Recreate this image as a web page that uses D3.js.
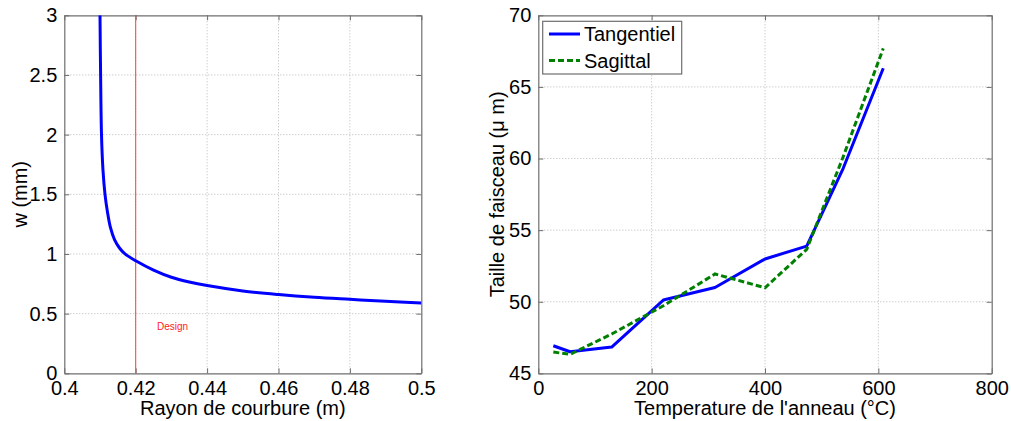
<!DOCTYPE html>
<html>
<head>
<meta charset="utf-8">
<script src="https://cdn.jsdelivr.net/npm/d3@7"></script>
<style>
html,body{margin:0;padding:0;background:#fff;}
svg{display:block;}
text{font-family:"Liberation Sans",Arial,sans-serif;fill:#000;}
</style>
</head>
<body>
<svg id="chart" width="1011" height="421"></svg>
<script>
// ---- Left panel data: beam size w (mm) vs radius of curvature (m)
const rayon = [0.41000, 0.41017, 0.41042, 0.41084, 0.41140, 0.41210, 0.41294, 0.41406, 0.41546, 0.41700, 0.4200, 0.4250, 0.4300, 0.4350, 0.4400, 0.4500, 0.4600, 0.4700, 0.4800, 0.4900, 0.5000];
const wmm   = [3.00,    2.50,    2.00,    1.70,    1.50,    1.35,    1.22,    1.12,    1.05,    1.00,    0.943,  0.865,  0.805,  0.765,  0.735,  0.690,  0.660,  0.637,  0.620,  0.604,  0.590];
const designR = 0.42;
const leftXTicks = [0.4, 0.42, 0.44, 0.46, 0.48, 0.5];
const leftYTicks = [0, 0.5, 1, 1.5, 2, 2.5, 3];

// ---- Right panel data: beam size (µm) vs ring temperature (°C)
const temperature = [26.5, 56, 129.5, 220.6, 311.8, 400, 473.6, 538, 608.7];
const tangentiel  = [46.93, 46.51, 46.84, 50.12, 51.00, 52.99, 53.89, 59.32, 66.30];
const sagittal    = [46.49, 46.33, 47.75, 49.72, 51.94, 50.98, 53.66, 60.13, 67.69];
const rightXTicks = [0, 200, 400, 600, 800];
const rightYTicks = [45, 50, 55, 60, 65, 70];

const svg = d3.select("#chart");
svg.append("rect").attr("width",1011).attr("height",421).attr("fill","#fff");

const FS = 20;
const axisColor = "#6e6e6e";
const gridColor = "#b8b8b8";

function panel(opts){
  const {x0,x1,y0,y1,xDomain,yDomain,xTicks,yTicks,xFmt,yFmt,xLabel,yLabel,yLabelX,clipId} = opts;
  const x = d3.scaleLinear().domain(xDomain).range([x0,x1]);
  const y = d3.scaleLinear().domain(yDomain).range([y1,y0]);
  const g = svg.append("g");
  // grid
  g.append("g").selectAll("line").data(xTicks.slice(1,-1)).join("line")
    .attr("x1",d=>x(d)).attr("x2",d=>x(d)).attr("y1",y0).attr("y2",y1)
    .attr("stroke",gridColor).attr("stroke-width",1).attr("stroke-dasharray","1,2");
  g.append("g").selectAll("line").data(yTicks.slice(1,-1)).join("line")
    .attr("y1",d=>y(d)).attr("y2",d=>y(d)).attr("x1",x0).attr("x2",x1)
    .attr("stroke",gridColor).attr("stroke-width",1).attr("stroke-dasharray","1,2");
  // axes with inward ticks
  const ax = g.append("g").attr("transform",`translate(0,${y1})`)
    .call(d3.axisBottom(x).tickValues(xTicks).tickFormat(xFmt).tickSizeInner(-5).tickSizeOuter(0).tickPadding(7));
  const ay = g.append("g").attr("transform",`translate(${x0},0)`)
    .call(d3.axisLeft(y).tickValues(yTicks).tickFormat(yFmt).tickSizeInner(-5).tickSizeOuter(0).tickPadding(7));
  const at = g.append("g").attr("transform",`translate(0,${y0})`)
    .call(d3.axisTop(x).tickValues(xTicks).tickFormat("").tickSizeInner(-5).tickSizeOuter(0));
  const ar = g.append("g").attr("transform",`translate(${x1},0)`)
    .call(d3.axisRight(y).tickValues(yTicks).tickFormat("").tickSizeInner(-5).tickSizeOuter(0));
  [ax,ay,at,ar].forEach(a=>{
    a.select(".domain").attr("stroke",axisColor).attr("stroke-width",1.2);
    a.selectAll(".tick line").attr("stroke",axisColor);
    a.selectAll("text").attr("font-size",FS).attr("font-family","Liberation Sans, Arial, sans-serif").attr("fill","#000");
  });
  ax.selectAll(".tick text").attr("dy","0.72em");
  // axis titles
  g.append("text").attr("x",(x0+x1)/2).attr("y",415).attr("text-anchor","middle")
    .attr("font-size",FS).text(xLabel);
  g.append("text").attr("transform",`translate(${yLabelX},${(y0+y1)/2}) rotate(-90)`)
    .attr("text-anchor","middle").attr("font-size",FS).text(yLabel);
  svg.append("clipPath").attr("id",clipId).append("rect")
    .attr("x",x0).attr("y",y0).attr("width",x1-x0).attr("height",y1-y0);
  return {x,y,g};
}

// ---- Left panel
const L = panel({x0:64.3,x1:421.3,y0:15.3,y1:373.3,xDomain:[0.4,0.5],yDomain:[0,3],
  xTicks:leftXTicks,yTicks:leftYTicks,xFmt:d=>String(d),yFmt:d=>String(d),
  xLabel:"Rayon de courbure (m)",yLabel:"w (mm)",yLabelX:27,clipId:"clipL"});
L.g.append("line").attr("x1",L.x(designR)).attr("x2",L.x(designR)).attr("y1",15.3).attr("y2",373.3)
  .attr("stroke","#ff4040").attr("stroke-width",1);
L.g.append("text").attr("x",157).attr("y",329.5).attr("font-size",10)
  .style("fill","#ff2020").text("Design");
const leftData = rayon.map((r,i)=>[r,wmm[i]]);
L.g.append("path").datum(leftData).attr("clip-path","url(#clipL)")
  .attr("d",d3.line().x(d=>L.x(d[0])).y(d=>L.y(d[1])).curve(d3.curveCatmullRom.alpha(0.5)))
  .attr("fill","none").attr("stroke","#0000ff").attr("stroke-width",3);

// ---- Right panel
const R = panel({x0:538.3,x1:991.7,y0:15.3,y1:373.4,xDomain:[0,800],yDomain:[45,70],
  xTicks:rightXTicks,yTicks:rightYTicks,xFmt:d=>String(d),yFmt:d=>String(d),
  xLabel:"Temperature de l'anneau (°C)",yLabel:"Taille de faisceau (μ m)",yLabelX:504,clipId:"clipR"});
const lineR = d3.line().x(d=>R.x(d[0])).y(d=>R.y(d[1]));
R.g.append("path").datum(temperature.map((t,i)=>[t,tangentiel[i]]))
  .attr("d",lineR).attr("fill","none").attr("stroke","#0000ff").attr("stroke-width",3)
  .attr("stroke-linejoin","round");
R.g.append("path").datum(temperature.map((t,i)=>[t,sagittal[i]]))
  .attr("d",lineR).attr("fill","none").attr("stroke","#008000").attr("stroke-width",3)
  .attr("stroke-dasharray","6,3");

// legend
const lg = R.g.append("g");
lg.append("rect").attr("x",542.7).attr("y",21.3).attr("width",139).attr("height",52.7)
  .attr("fill","#fff").attr("stroke",axisColor).attr("stroke-width",1.2);
const legendItems = [{name:"Tangentiel",color:"#0000ff",dash:null,y:34},{name:"Sagittal",color:"#008000",dash:"6,3",y:60.5}];
legendItems.forEach(it=>{
  lg.append("line").attr("x1",549).attr("x2",580).attr("y1",it.y).attr("y2",it.y)
    .attr("stroke",it.color).attr("stroke-width",3).attr("stroke-dasharray",it.dash);
  lg.append("text").attr("x",584).attr("y",it.y).attr("dy","0.35em").attr("font-size",FS).text(it.name);
});
</script>
</body>
</html>
